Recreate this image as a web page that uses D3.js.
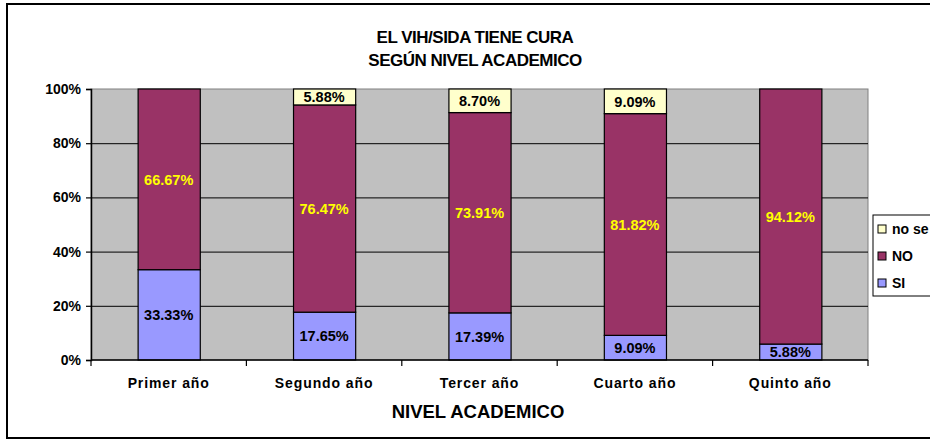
<!DOCTYPE html>
<html>
<head>
<meta charset="utf-8">
<script src="https://cdn.jsdelivr.net/npm/d3@7"></script>
<style>
  body { margin: 0; background: #fff; }
  text { font-family: "Liberation Sans", Arial, sans-serif; font-weight: bold; }
</style>
</head>
<body>
<div id="chart"></div>
<script>
const categories = ["Primer año", "Segundo año", "Tercer año", "Cuarto año", "Quinto año"];
const si = [33.33, 17.65, 17.39, 9.09, 5.88];
const no = [66.67, 76.47, 73.91, 81.82, 94.12];
const noSe = [0, 5.88, 8.70, 9.09, 0];
const yTicks = [0, 20, 40, 60, 80, 100];

const width = 930, height = 444;
const plot = { left: 91, right: 868, top: 89, bottom: 360 };

const svg = d3.select("#chart")
    .append("svg")
    .attr("width", width)
    .attr("height", height);

// outer chart border
svg.append("rect")
    .attr("x", 7).attr("y", 4)
    .attr("width", 940).attr("height", 434)
    .attr("fill", "#fff")
    .attr("stroke", "#000")
    .attr("stroke-width", 2);

const x = d3.scaleBand()
    .domain(categories)
    .range([plot.left, plot.right])
    .paddingInner(0.6)
    .paddingOuter(0.3);

const y = d3.scaleLinear()
    .domain([0, 100])
    .range([plot.bottom, plot.top]);

// plot background
svg.append("rect")
    .attr("x", plot.left).attr("y", plot.top)
    .attr("width", plot.right - plot.left)
    .attr("height", plot.bottom - plot.top)
    .attr("fill", "#c0c0c0")
    .attr("stroke", "#808080")
    .attr("stroke-width", 1);

// gridlines
svg.selectAll("line.grid")
    .data(yTicks.filter(t => t > 0 && t < 100))
    .join("line")
    .attr("x1", plot.left).attr("x2", plot.right)
    .attr("y1", d => y(d) + 0.5).attr("y2", d => y(d) + 0.5)
    .attr("stroke", "#000");

const series = [
    { key: "SI", values: si, color: "#9999ff", labelColor: "#000" },
    { key: "NO", values: no, color: "#993366", labelColor: "#ffff00" },
    { key: "no se", values: noSe, color: "#ffffcc", labelColor: "#000" }
];

const rows = categories.map((c, i) => {
    const r = { cat: c };
    series.forEach(s => r[s.key] = s.values[i]);
    return r;
});
const stacked = d3.stack().keys(series.map(s => s.key))(rows);

stacked.forEach((layer, li) => {
    const s = series[li];
    const g = svg.append("g");
    g.selectAll("rect")
        .data(layer.filter(d => d[1] - d[0] > 0))
        .join("rect")
        .attr("x", d => x(d.data.cat) + 0.5)
        .attr("y", d => y(d[1]))
        .attr("width", x.bandwidth())
        .attr("height", d => y(d[0]) - y(d[1]))
        .attr("fill", s.color)
        .attr("stroke", "#000")
        .attr("stroke-width", 1.2);
    g.selectAll("text")
        .data(layer.filter(d => d[1] - d[0] > 0))
        .join("text")
        .attr("x", d => x(d.data.cat) + x.bandwidth() / 2)
        .attr("y", d => y((d[0] + d[1]) / 2))
        .attr("dy", "0.36em")
        .attr("text-anchor", "middle")
        .style("font-size", "14.5px")
        .style("fill", s.labelColor)
        .text(d => (d[1] - d[0]).toFixed(2) + "%");
});

// y axis
const yAxis = d3.axisLeft(y)
    .tickValues(yTicks)
    .tickSize(5)
    .tickFormat(d => d + "%");
svg.append("g")
    .attr("transform", `translate(${plot.left},0)`)
    .call(yAxis)
    .call(g => g.select(".domain").attr("stroke", "#000").attr("stroke-width", 1.5))
    .call(g => g.selectAll("line").attr("stroke-width", 1.2))
    .call(g => g.selectAll("text").style("font-size", "14px").attr("font-family", null).attr("fill", "#000").attr("x", -10));

// x axis with ticks at category boundaries
svg.append("line")
    .attr("x1", plot.left).attr("x2", plot.right)
    .attr("y1", plot.bottom).attr("y2", plot.bottom)
    .attr("stroke", "#000").attr("stroke-width", 1.5);
const bounds = d3.range(categories.length + 1).map(i => plot.left + i * x.step());
svg.selectAll("line.xtick")
    .data(bounds)
    .join("line")
    .attr("x1", d => d).attr("x2", d => d)
    .attr("y1", plot.bottom).attr("y2", plot.bottom + 6)
    .attr("stroke", "#000").attr("stroke-width", 1.2);
svg.selectAll("text.cat")
    .data(categories)
    .join("text")
    .attr("x", d => x(d) + x.bandwidth() / 2)
    .attr("y", 388)
    .attr("text-anchor", "middle")
    .style("font-size", "14px")
    .style("letter-spacing", "0.9px")
    .text(d => d);

// titles
svg.append("text")
    .attr("x", 475).attr("y", 43)
    .attr("text-anchor", "middle")
    .style("font-size", "17px")
    .style("letter-spacing", "-0.5px")
    .text("EL VIH/SIDA TIENE CURA");
svg.append("text")
    .attr("x", 475).attr("y", 66)
    .attr("text-anchor", "middle")
    .style("font-size", "17px")
    .style("letter-spacing", "-0.5px")
    .text("SEGÚN NIVEL ACADEMICO");
svg.append("text")
    .attr("x", 478).attr("y", 418)
    .attr("text-anchor", "middle")
    .style("font-size", "18.5px")
    .text("NIVEL ACADEMICO");

// legend
const legend = svg.append("g")
    .attr("transform", "translate(873,215)");
legend.append("rect")
    .attr("width", 90).attr("height", 81)
    .attr("fill", "#fff")
    .attr("stroke", "#000")
    .attr("stroke-width", 1);
series.slice().reverse().forEach((s, i) => {
    const row = legend.append("g")
        .attr("transform", `translate(5, ${14 + i * 27})`);
    row.append("rect")
        .attr("x", 0).attr("y", -4)
        .attr("width", 8).attr("height", 8)
        .attr("fill", s.color)
        .attr("stroke", "#000");
    row.append("text")
        .attr("x", 14).attr("y", 0)
        .attr("dy", "0.36em")
        .style("font-size", "14px")
        .text(s.key);
});
</script>
</body>
</html>
